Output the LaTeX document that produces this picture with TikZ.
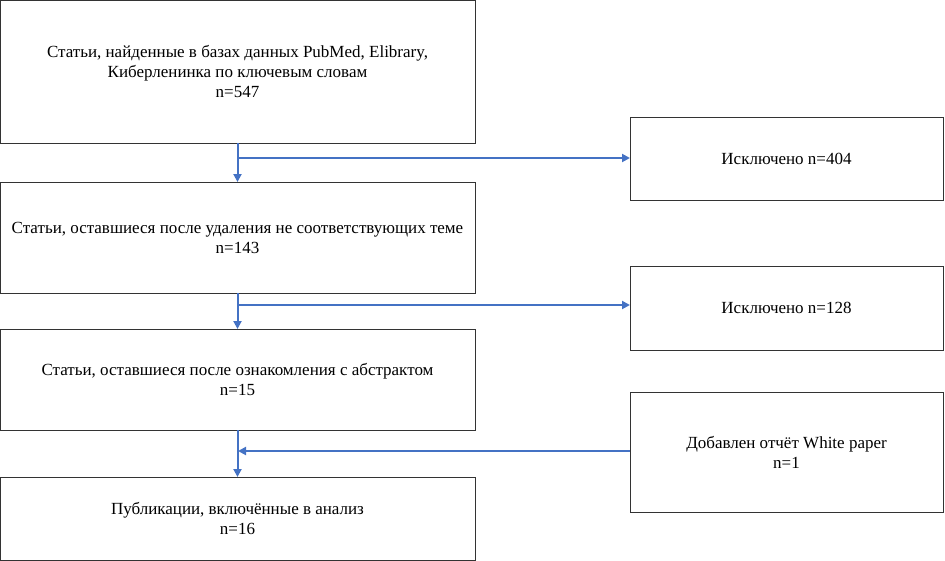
\documentclass[tikz,border=0pt]{standalone}
\usepackage{fontspec}
\setmainfont{Liberation Serif}
\usetikzlibrary{positioning,arrows.meta}
\definecolor{arrowblue}{HTML}{4472C4}
\begin{document}
\begin{tikzpicture}
[x=1pt,y=1pt,
 every node/.style={draw=black!80,line width=0.8pt,inner sep=0pt,outer sep=0pt,align=center,font=\fontsize{17}{20}\selectfont},
 mainbox/.style={rectangle,minimum width=475pt},
 sidebox/.style={rectangle,minimum width=313pt},
 flow/.style={draw=arrowblue,line width=2pt,-{Triangle[length=8pt,width=8pt]}}]
\useasboundingbox (0,0) rectangle (945,-560);
\node[mainbox,minimum height=143pt] (art)   at (237.5,-71.5)  {Статьи, найденные в базах данных PubMed, Elibrary,\\Киберленинка по ключевым словам\\n=547};
\node[mainbox,minimum height=111pt] (topic) at (237.5,-237.5) {Статьи, оставшиеся после удаления не соответствующих теме\\n=143};
\node[mainbox,minimum height=101pt] (abst)  at (237.5,-379.5) {Статьи, оставшиеся после ознакомления с абстрактом\\n=15};
\node[mainbox,minimum height=83pt]  (incl)  at (237.5,-518.5) {Публикации, включённые в анализ\\n=16};
\node[sidebox,minimum height=83pt]  (exA)   at (786.5,-158.5) {Исключено n=404};
\node[sidebox,minimum height=84pt]  (exB)   at (786.5,-308)   {Исключено n=128};
\node[sidebox,minimum height=120pt] (wp)    at (786.5,-452)   {Добавлен отчёт White paper\\n=1};
% branch points on the main line
\coordinate (jA) at (238,-158);
\coordinate (jB) at (238,-305);
\coordinate (jC) at (238,-451);
\draw[flow] (art)   -- (topic);
\draw[flow] (topic) -- (abst);
\draw[flow] (abst)  -- (incl);
\draw[flow] (jA) -- (exA.west |- jA);
\draw[flow] (jB) -- (exB.west |- jB);
\draw[flow] (wp.west |- jC) -- (jC);
\end{tikzpicture}
\end{document}
